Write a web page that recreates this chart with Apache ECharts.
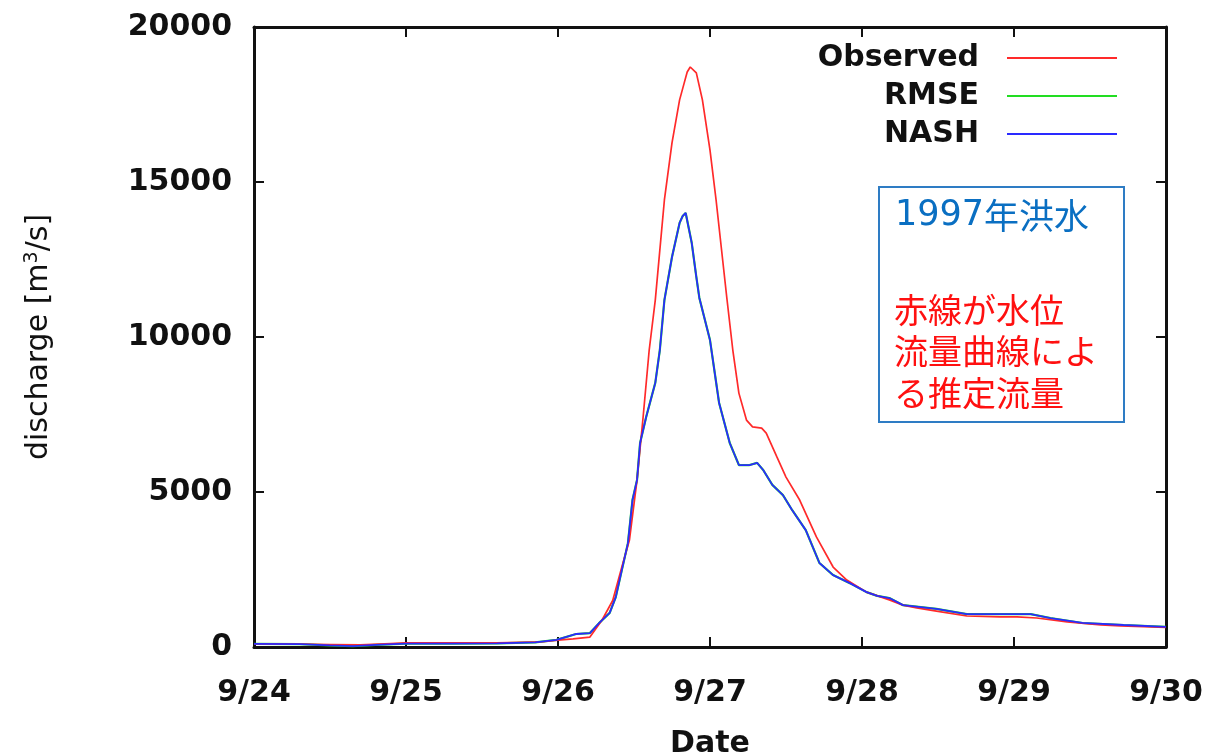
<!DOCTYPE html>
<html>
<head>
<meta charset="utf-8">
<script src="https://cdn.jsdelivr.net/npm/echarts@6/dist/echarts.min.js"></script>
<style>
  html, body { margin: 0; padding: 0; background: #fff; }
  #chart { width: 1211px; height: 755px; }
</style>
</head>
<body>
<div id="chart"></div>
<script>
// Tick labels for the date axis (days counted from 9/24 00:00)
const dateTicks = ['9/24', '9/25', '9/26', '9/27', '9/28', '9/29', '9/30'];

// Observed discharge (stage–discharge rating curve), time in days since 9/24
const obsT = [0.00, 0.30, 0.50, 0.70, 0.90, 1.00, 1.30, 1.60, 1.90, 2.00, 2.10, 2.21, 2.29, 2.36, 2.42, 2.47,
  2.52, 2.56, 2.60, 2.64, 2.70, 2.75, 2.80, 2.83, 2.85, 2.87, 2.91, 2.95, 3.00, 3.04, 3.11, 3.15, 3.19,
  3.24, 3.28, 3.34, 3.37, 3.44, 3.50, 3.59, 3.70, 3.81, 3.90, 4.03, 4.18, 4.27, 4.36, 4.49, 4.69, 4.91,
  5.02, 5.15, 5.35, 5.57, 5.70, 5.90, 6.00];
const obsQ = [100, 90, 80, 70, 110, 130, 130, 130, 170, 220, 260, 320, 870, 1500, 2580, 3450,
  5390, 7420, 9580, 11190, 14420, 16260, 17650, 18190, 18550, 18710, 18520, 17650, 16030, 14420, 11290, 9580, 8190,
  7320, 7100, 7060, 6900, 6130, 5480, 4740, 3550, 2580, 2160, 1770, 1520, 1350, 1260, 1160, 1000, 970,
  970, 935, 810, 710, 680, 650, 630];

// Simulated discharge, parameters calibrated by Nash–Sutcliffe efficiency
const nashT = [0.00, 0.30, 0.50, 0.65, 0.80, 1.00, 1.30, 1.60, 1.85, 1.99, 2.12, 2.21, 2.27, 2.34, 2.38, 2.42,
  2.46, 2.49, 2.52, 2.54, 2.58, 2.64, 2.67, 2.70, 2.75, 2.80, 2.82, 2.84, 2.88, 2.91, 2.93, 3.00, 3.06,
  3.13, 3.19, 3.26, 3.31, 3.35, 3.41, 3.48, 3.54, 3.63, 3.72, 3.81, 3.92, 4.03, 4.10, 4.18, 4.27, 4.49,
  4.69, 4.91, 5.11, 5.24, 5.45, 5.72, 6.00];
const nashQ = [100, 90, 50, 30, 70, 110, 110, 120, 150, 230, 420, 450, 770, 1100, 1610, 2480,
  3350, 4740, 5390, 6580, 7420, 8520, 9580, 11190, 12580, 13680, 13900, 14000, 13030, 11940, 11260, 9900, 7870,
  6580, 5870, 5870, 5940, 5710, 5230, 4900, 4420, 3770, 2710, 2320, 2060, 1770, 1650, 1580, 1350, 1230,
  1060, 1060, 1060, 935, 775, 710, 650];

// Simulated discharge, parameters calibrated by RMSE (coincides with the NASH run)
const rmseT = nashT;
const rmseQ = nashQ;

const pairs = (t, q) => t.map((d, i) => [d, q[i]]);

const FONT = 'DejaVu Sans';
const tickStyle = { show: true, inside: true, length: 10, lineStyle: { color: '#111', width: 2 } };
const axisLine = { show: true, onZero: false, lineStyle: { color: '#111', width: 3 } };

const chart = echarts.init(document.getElementById('chart'), null, { renderer: 'canvas' });

chart.setOption({
  animation: false,
  backgroundColor: '#fff',
  grid: { left: 254, right: 45, top: 27, bottom: 108, containLabel: false, outerBoundsMode: 'none' },
  legend: {
    orient: 'vertical',
    align: 'right',
    right: 89,
    top: 38,
    itemGap: 8,
    itemWidth: 110,
    itemHeight: 2,
    icon: 'rect',
    data: ['Observed', 'RMSE', 'NASH'],
    textStyle: { fontFamily: FONT, fontWeight: 'bold', fontSize: 30, color: '#111', padding: [0, 23, 0, 0] }
  },
  xAxis: [
    {
      type: 'value', position: 'bottom', min: 0, max: 6, interval: 1,
      axisLine, axisTick: tickStyle, splitLine: { show: false },
      axisLabel: {
        margin: 31, fontFamily: FONT, fontWeight: 'bold', fontSize: 30, color: '#111',
        formatter: v => dateTicks[Math.round(v)]
      },
      name: 'Date', nameLocation: 'middle', nameGap: 82,
      nameTextStyle: { fontFamily: FONT, fontWeight: 'bold', fontSize: 30, color: '#111' }
    },
    {
      type: 'value', position: 'top', min: 0, max: 6, interval: 1,
      axisLine, axisTick: tickStyle, axisLabel: { show: false }, splitLine: { show: false }
    }
  ],
  yAxis: [
    {
      type: 'value', position: 'left', min: 0, max: 20000, interval: 5000,
      axisLine, axisTick: tickStyle, splitLine: { show: false },
      axisLabel: { margin: 22, fontFamily: FONT, fontWeight: 'bold', fontSize: 30, color: '#111',
                   formatter: v => String(v) },
      name: 'discharge [m{sup|3}/s]', nameLocation: 'middle', nameRotate: 90, nameGap: 198,
      nameTextStyle: {
        fontFamily: FONT, fontSize: 30, color: '#111',
        rich: { sup: { fontFamily: FONT, fontSize: 19, color: '#111', verticalAlign: 'top', padding: [0, 0, 14, 0] } }
      }
    },
    {
      type: 'value', position: 'right', min: 0, max: 20000, interval: 5000,
      axisLine, axisTick: tickStyle, axisLabel: { show: false }, splitLine: { show: false }
    }
  ],
  series: [
    {
      name: 'Observed', type: 'line', data: pairs(obsT, obsQ), showSymbol: false, smooth: false,
      color: '#ff2a2a', lineStyle: { width: 1.7, color: '#ff2a2a' }, z: 3
    },
    {
      name: 'RMSE', type: 'line', data: pairs(rmseT, rmseQ), showSymbol: false, smooth: false,
      color: '#22dd22', lineStyle: { width: 2.2, color: '#22dd22' }, z: 2
    },
    {
      name: 'NASH', type: 'line', data: pairs(nashT, nashQ), showSymbol: false, smooth: false,
      color: '#2a2aff', lineStyle: { width: 1.8, color: '#2a2aff' }, z: 4
    }
  ],
  graphic: [
    {
      type: 'group', left: 878, top: 186,
      children: [
        { type: 'rect', shape: { x: 0, y: 0, width: 245, height: 235 },
          style: { fill: '#fff', stroke: '#2e7cc4', lineWidth: 2 } },
        { type: 'text', x: 16, y: 29,
          style: { text: '{d|1997}年洪水', fill: '#0a6fc2', fontFamily: 'Noto Sans CJK JP', fontSize: 35,
                   verticalAlign: 'middle',
                   rich: { d: { fontFamily: FONT, fontSize: 35, fill: '#0a6fc2' } } } },
        { type: 'text', x: 15, y: 123,
          style: { text: '赤線が水位', fill: '#ff1010', fontFamily: 'Noto Sans CJK JP', fontSize: 34,
                   verticalAlign: 'middle' } },
        { type: 'text', x: 15, y: 164,
          style: { text: '流量曲線によ', fill: '#ff1010', fontFamily: 'Noto Sans CJK JP', fontSize: 34,
                   verticalAlign: 'middle' } },
        { type: 'text', x: 15, y: 206,
          style: { text: 'る推定流量', fill: '#ff1010', fontFamily: 'Noto Sans CJK JP', fontSize: 34,
                   verticalAlign: 'middle' } }
      ]
    }
  ]
});
</script>
</body>
</html>
